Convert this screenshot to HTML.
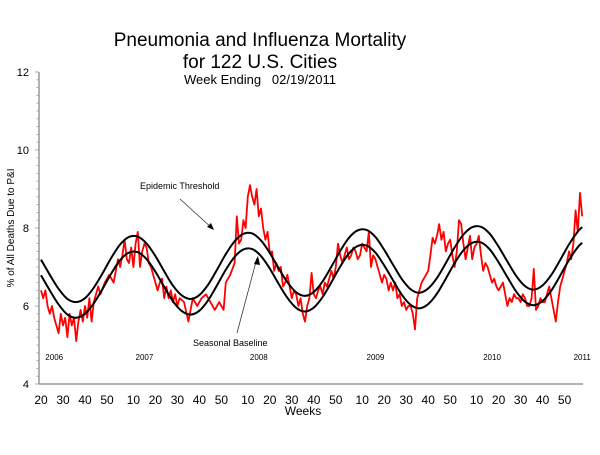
<!DOCTYPE html>
<html><head><meta charset="utf-8"><style>
body{margin:0;background:#fff;width:600px;height:450px;overflow:hidden;font-family:"Liberation Sans",Arial,sans-serif}
svg text{font-family:"Liberation Sans",Arial,sans-serif}
</style></head><body>
<svg id="chart" width="600" height="450" viewBox="0 0 600 450" xmlns="http://www.w3.org/2000/svg">
<text x="260" y="46" font-size="19" text-anchor="middle">Pneumonia and Influenza Mortality</text>
<text x="260" y="68" font-size="19" text-anchor="middle">for 122 U.S. Cities</text>
<text x="260" y="84" font-size="13" text-anchor="middle">Week Ending&#160;&#160;&#160;02/19/2011</text>
<text x="0" y="0" font-size="10" text-anchor="middle" transform="translate(14,228) rotate(-90)">% of All Deaths Due to P&amp;I</text>
<text x="303" y="415" font-size="12" text-anchor="middle">Weeks</text>
<g id="axes"></g>
<g id="series"></g>
<text x="140" y="189" font-size="9">Epidemic Threshold</text>
<line x1="180" y1="199" x2="213" y2="229" stroke="#333" stroke-width="0.8"/>
<polygon points="214,230 207,227 211,223" fill="#000"/>
<text x="193" y="346" font-size="9">Seasonal Baseline</text>
<line x1="237" y1="333" x2="257" y2="258" stroke="#333" stroke-width="0.8"/>
<polygon points="258,256 254,264 260,265" fill="#000"/>
</svg>
<script>
const pctWeeks = [0,1,2,3,4,5,6,8,9,10,11,12,13,14,15,16,17,18,19,20,21,22,23,24,26,27,29,31,33,35,36,37,38,39,40,41,42,43,44,45,46,47,48,49,50,51,52,53,54,55,56,57,58,59,60,61,62,63,65,67,69,71,73,75,77,79,81,83,84,86,88,89,90,91,92,93,94,95,96,97,98,99,100,101,102,103,104,105,106,107,108,109,110,111,112,113,114,115,116,117,118,119,120,121,122,123,124,125,126,127,128,129,130,131,132,133,134,135,136,137,138,139,140,141,142,143,144,145,146,147,148,149,150,151,152,153,154,155,156,157,158,159,160,161,162,163,164,165,166,167,168,169,170,171,172,173,174,175,176,177,178,179,180,181,182,183,184,185,186,187,188,189,190,191,192,193,194,195,196,197,198,199,200,201,202,203,204,205,206,207,208,209,210,211,212,213,214,215,216,217,218,219,220,221,222,223,224,225,226,227,228,229,230,231,232,233,234,235,236,237,238,239,240,241,242,243,244,245,246];
const pctValues = [6.4,6.2,6.4,6.0,5.8,6.0,5.7,5.3,5.8,5.5,5.7,5.2,5.8,5.5,5.7,5.1,5.6,5.9,5.6,6.0,5.7,6.2,5.6,6.1,6.5,6.3,6.6,6.8,6.6,7.2,7.0,7.3,7.7,7.2,7.1,7.5,7.0,7.6,7.9,7.0,7.4,7.6,7.5,7.1,7.0,6.8,6.6,6.4,6.6,6.7,6.2,6.5,6.2,6.4,6.1,6.3,6.0,6.2,6.1,5.6,6.2,6.0,6.2,6.3,6.1,5.9,6.1,5.9,6.6,6.8,7.1,8.3,7.6,7.7,8.2,8.0,8.8,9.1,8.8,8.6,9.0,8.3,8.5,8.0,7.7,7.9,7.35,7.4,6.9,7.1,6.9,7.0,6.5,6.6,6.8,6.5,6.2,6.4,6.3,6.0,6.2,5.8,5.6,6.0,6.2,6.85,6.3,6.2,6.4,6.5,6.3,6.6,6.5,6.7,6.9,6.7,7.0,7.6,7.3,7.1,7.3,7.5,7.2,7.3,7.5,7.4,7.2,7.3,7.6,7.5,7.4,7.9,7.0,7.3,7.2,7.0,6.8,6.6,6.8,6.7,6.4,6.6,6.4,6.6,6.2,6.3,6.0,6.1,5.9,6.0,6.0,5.8,5.4,6.2,6.4,6.6,6.7,6.8,6.9,7.3,7.75,7.6,7.8,8.1,7.7,7.9,7.4,7.6,7.7,7.3,7.0,7.4,8.2,8.1,7.6,7.2,7.5,7.8,7.2,7.5,7.6,7.8,7.3,6.9,7.1,7.0,6.8,6.6,6.7,6.5,6.4,6.5,6.6,6.3,6.0,6.2,6.1,6.3,6.2,6.2,6.1,6.3,6.2,6.0,6.0,6.2,6.95,5.9,6.0,6.2,6.1,6.1,6.3,6.5,6.2,5.9,5.6,6.1,6.5,6.7,6.9,7.1,7.4,7.2,7.6,8.45,7.9,8.9,8.3];
const curveWeeks = [0,4,8,12,16,20,24,28,32,36,40,44,48,52,56,60,64,68,72,76,80,84,88,92,96,100,104,108,112,116,120,124,128,132,136,140,144,148,152,156,160,164,168,172,176,180,184,188,192,196,200,204,208,212,216,220,224,228,232,236,240,244,246];
const baselineValues = [6.79,6.40,6.04,5.78,5.70,5.80,6.07,6.44,6.84,7.18,7.37,7.38,7.20,6.88,6.49,6.12,5.87,5.78,5.88,6.15,6.53,6.93,7.26,7.45,7.46,7.28,6.96,6.57,6.21,5.95,5.86,5.96,6.23,6.61,7.01,7.35,7.54,7.55,7.37,7.04,6.66,6.29,6.03,5.94,6.05,6.32,6.70,7.10,7.43,7.62,7.63,7.45,7.12,6.74,6.37,6.11,6.02,6.13,6.40,6.78,7.18,7.51,7.62];
const thresholdValues = [7.19,6.80,6.44,6.18,6.10,6.20,6.47,6.84,7.24,7.58,7.77,7.78,7.60,7.28,6.89,6.52,6.27,6.18,6.28,6.55,6.93,7.33,7.66,7.85,7.86,7.68,7.36,6.97,6.61,6.35,6.26,6.36,6.63,7.01,7.41,7.75,7.94,7.95,7.77,7.44,7.06,6.69,6.43,6.34,6.45,6.72,7.10,7.50,7.83,8.02,8.03,7.85,7.52,7.14,6.77,6.51,6.42,6.53,6.80,7.18,7.58,7.91,8.02];
const yTickValues = [4,6,8,10,12];
const yearLabels = ["2006","2007","2008","2009","2010","2011"];
const yearLabelWeeks = [6,47,99,152,205,246];
const weekTickLabels = ["20","30","40","50","10","20","30","40","50","10","20","30","40","50","10","20","30","40","50","10","20","30","40","50"];
const weekTickIndex = [0,10,20,30,42,52,62,72,82,94,104,114,124,134,146,156,166,176,186,198,208,218,228,238];

const NS="http://www.w3.org/2000/svg";
const X0=41, XS=2.2, Y4=384, YS=39;
function xScale(i){return X0+i*XS;}
function yScale(v){return Y4-(v-4)*YS;}
function mk(tag,attrs,parent){const e=document.createElementNS(NS,tag);for(const k in attrs)e.setAttribute(k,attrs[k]);parent.appendChild(e);return e;}
const axes=document.getElementById('axes'), series=document.getElementById('series');

let e=mk('line',{x1:39,y1:yScale(12),x2:39,y2:yScale(4),stroke:'#999','stroke-width':1.5},axes);


e=mk('line',{x1:39,y1:yScale(4),x2:583,y2:yScale(4),stroke:'#999','stroke-width':1.5},axes);


for(let k=0;k<=40;k++){
  const v=4+k*0.2;
  const t=mk('line',{x1:k%10===0?35:36.5,y1:yScale(v),x2:39,y2:yScale(v),stroke:'#999','stroke-width':0.8},axes);
  
  
}
yTickValues.forEach(v=>{
  const t=mk('text',{x:29,y:yScale(v)+4,'font-size':11,'text-anchor':'end'},axes);t.textContent=v;
  
  
});
yearLabels.forEach((lab,k)=>{
  const t=mk('text',{x:xScale(yearLabelWeeks[k]),y:360,'font-size':8,'text-anchor':'middle'},axes);t.textContent=lab;
  
  
});
weekTickLabels.forEach((lab,k)=>{
  const t=mk('text',{x:xScale(weekTickIndex[k]),y:404,'font-size':12,'text-anchor':'middle'},axes);t.textContent=lab;
  
  
});
function smoothPath(ws,vs){
  const p=ws.map((w,i)=>[xScale(w),yScale(vs[i])]);
  let d='M'+p[0][0]+','+p[0][1];
  for(let i=0;i<p.length-1;i++){
    const p0=p[i-1]||p[i],p1=p[i],p2=p[i+1],p3=p[i+2]||p2;
    d+=' C'+(p1[0]+(p2[0]-p0[0])/6)+','+(p1[1]+(p2[1]-p0[1])/6)+' '+(p2[0]-(p3[0]-p1[0])/6)+','+(p2[1]-(p3[1]-p1[1])/6)+' '+p2[0]+','+p2[1];
  }
  return d;
}
e=mk('polyline',{points:pctWeeks.map((w,i)=>xScale(w)+','+yScale(pctValues[i])).join(' '),fill:'none',stroke:'#ff0000','stroke-width':1.8,'stroke-linejoin':'round'},series);


e=mk('path',{d:smoothPath(curveWeeks,thresholdValues),fill:'none',stroke:'#000','stroke-width':2},series);


e=mk('path',{d:smoothPath(curveWeeks,baselineValues),fill:'none',stroke:'#000','stroke-width':2},series);


</script>
</body></html>
